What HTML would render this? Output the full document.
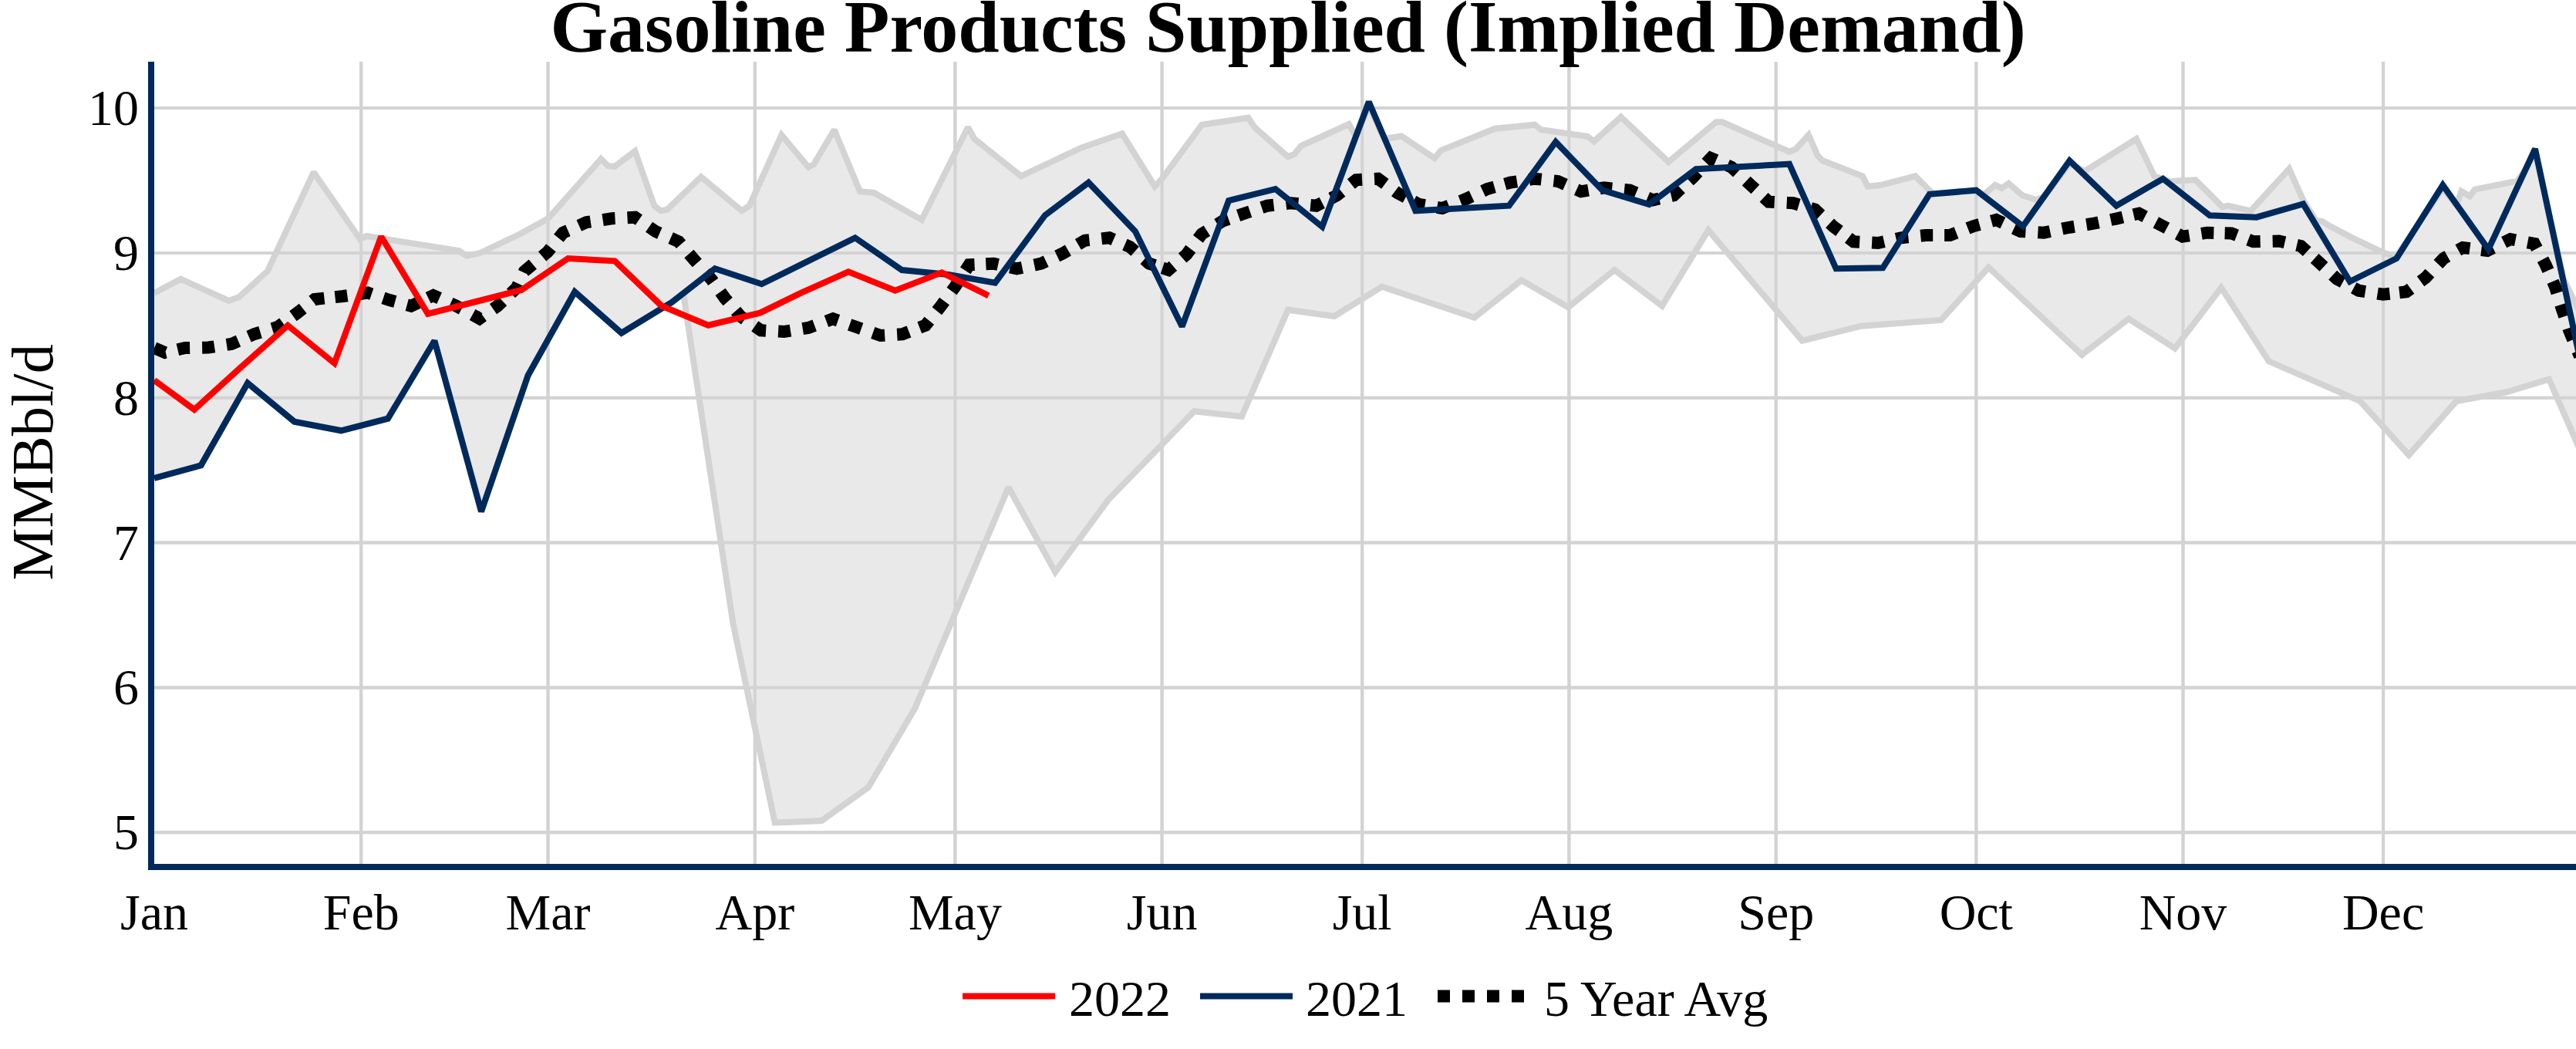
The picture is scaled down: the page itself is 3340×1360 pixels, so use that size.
<!DOCTYPE html>
<html><head><meta charset="utf-8"><style>
html,body{margin:0;padding:0;background:#fff;overflow:hidden}
svg{display:block}
text{font-family:"Liberation Serif",serif;fill:#000}
</style></head><body>
<svg width="3340" height="1360" viewBox="0 0 3340 1360">
<defs><clipPath id="pc"><rect x="200" y="80" width="3200" height="1040"/></clipPath></defs>
<rect x="0" y="0" width="3340" height="1360" fill="#fff"/>
<g stroke="#d3d3d3" stroke-width="4"><line x1="468.2" y1="80" x2="468.2" y2="1120"/><line x1="710.5" y1="80" x2="710.5" y2="1120"/><line x1="978.8" y1="80" x2="978.8" y2="1120"/><line x1="1238.4" y1="80" x2="1238.4" y2="1120"/><line x1="1506.6" y1="80" x2="1506.6" y2="1120"/><line x1="1766.2" y1="80" x2="1766.2" y2="1120"/><line x1="2034.4" y1="80" x2="2034.4" y2="1120"/><line x1="2302.7" y1="80" x2="2302.7" y2="1120"/><line x1="2562.3" y1="80" x2="2562.3" y2="1120"/><line x1="2830.5" y1="80" x2="2830.5" y2="1120"/><line x1="3090.1" y1="80" x2="3090.1" y2="1120"/><line x1="200" y1="1079.3" x2="3340" y2="1079.3"/><line x1="200" y1="891.4" x2="3340" y2="891.4"/><line x1="200" y1="703.6" x2="3340" y2="703.6"/><line x1="200" y1="515.7" x2="3340" y2="515.7"/><line x1="200" y1="327.9" x2="3340" y2="327.9"/><line x1="200" y1="140.0" x2="3340" y2="140.0"/></g>
<g clip-path="url(#pc)" stroke-miterlimit="2">
<polygon points="200.0,380.0 234.3,361.7 296.7,390.0 310.0,385.0 346.7,351.7 406.7,223.3 466.7,310.0 475.0,306.0 595.0,325.0 605.0,331.7 621.7,328.3 673.0,304.0 710.7,283.3 779.3,206.0 788.3,215.0 796.7,216.0 823.3,196.0 848.3,266.7 856.7,273.3 865.0,271.7 909.0,229.3 961.7,273.3 971.7,266.7 1013.3,175.0 1048.3,216.7 1055.0,213.3 1081.7,168.3 1115.0,248.3 1133.3,250.0 1195.0,285.0 1255.0,165.0 1263.3,180.0 1324.0,228.3 1401.7,191.7 1455.0,173.3 1497.3,241.7 1506.7,231.7 1558.3,161.7 1618.3,152.7 1626.7,165.0 1670.0,203.3 1678.3,200.0 1686.7,189.3 1749.0,161.0 1758.0,177.0 1774.8,137.0 1795.0,180.0 1817.0,176.5 1860.0,205.0 1868.3,195.0 1938.3,166.7 1990.0,161.7 1998.3,168.3 2058.3,176.7 2066.7,183.3 2101.7,151.7 2163.3,210.0 2225.0,158.3 2233.3,158.3 2320.0,196.7 2328.3,193.3 2345.0,175.0 2356.7,201.7 2363.3,208.3 2415.0,228.3 2421.7,241.7 2438.3,240.0 2483.3,228.3 2506.5,251.5 2562.3,247.0 2572.5,252.0 2586.8,240.0 2595.4,244.0 2604.4,237.7 2622.3,253.2 2640.0,259.0 2650.0,255.3 2683.4,212.0 2703.0,222.0 2770.0,180.0 2793.3,228.3 2813.3,235.0 2846.7,233.3 2881.7,268.3 2888.3,266.7 2918.3,273.3 2968.0,219.0 2987.0,261.0 3003.0,286.0 3011.0,287.0 3018.3,291.7 3050.0,308.3 3088.3,326.7 3106.7,333.0 3167.3,244.0 3185.0,266.0 3191.4,248.0 3202.3,254.4 3208.9,245.6 3263.7,234.7 3274.0,221.0 3287.0,197.0 3324.0,362.0 3345.0,405.0 3345.0,583.0 3305.0,491.7 3250.0,508.3 3185.0,520.0 3123.3,590.0 3060.0,520.0 2941.7,468.3 2880.0,373.0 2820.0,451.7 2760.0,413.3 2699.3,460.0 2578.3,346.7 2516.7,415.0 2413.3,422.7 2336.7,441.7 2215.0,298.3 2155.0,396.7 2093.3,350.0 2033.3,398.3 1972.7,363.3 1911.7,411.7 1791.7,371.7 1730.0,410.0 1670.0,401.7 1610.0,540.0 1548.3,533.3 1436.7,648.3 1368.2,741.7 1307.6,631.7 1186.4,918.3 1125.9,1020.7 1065.3,1064.0 1004.7,1066.7 950.5,808.3 886.0,380.5 871.0,392.0 805.8,431.7 745.2,378.3 684.6,486.7 624.0,663.3 563.4,441.7 502.9,542.7 442.3,558.3 381.7,546.7 321.1,496.7 260.6,603.3 200.0,620.0" fill="#e9e9e9" stroke="none" opacity="1"/>
<g stroke="#d3d3d3" stroke-width="4"><line x1="468.2" y1="80" x2="468.2" y2="1120"/><line x1="710.5" y1="80" x2="710.5" y2="1120"/><line x1="978.8" y1="80" x2="978.8" y2="1120"/><line x1="1238.4" y1="80" x2="1238.4" y2="1120"/><line x1="1506.6" y1="80" x2="1506.6" y2="1120"/><line x1="1766.2" y1="80" x2="1766.2" y2="1120"/><line x1="2034.4" y1="80" x2="2034.4" y2="1120"/><line x1="2302.7" y1="80" x2="2302.7" y2="1120"/><line x1="2562.3" y1="80" x2="2562.3" y2="1120"/><line x1="2830.5" y1="80" x2="2830.5" y2="1120"/><line x1="3090.1" y1="80" x2="3090.1" y2="1120"/><line x1="200" y1="1079.3" x2="3340" y2="1079.3"/><line x1="200" y1="891.4" x2="3340" y2="891.4"/><line x1="200" y1="703.6" x2="3340" y2="703.6"/><line x1="200" y1="515.7" x2="3340" y2="515.7"/><line x1="200" y1="327.9" x2="3340" y2="327.9"/><line x1="200" y1="140.0" x2="3340" y2="140.0"/></g>
<polyline points="200.0,380.0 234.3,361.7 296.7,390.0 310.0,385.0 346.7,351.7 406.7,223.3 466.7,310.0 475.0,306.0 595.0,325.0 605.0,331.7 621.7,328.3 673.0,304.0 710.7,283.3 779.3,206.0 788.3,215.0 796.7,216.0 823.3,196.0 848.3,266.7 856.7,273.3 865.0,271.7 909.0,229.3 961.7,273.3 971.7,266.7 1013.3,175.0 1048.3,216.7 1055.0,213.3 1081.7,168.3 1115.0,248.3 1133.3,250.0 1195.0,285.0 1255.0,165.0 1263.3,180.0 1324.0,228.3 1401.7,191.7 1455.0,173.3 1497.3,241.7 1506.7,231.7 1558.3,161.7 1618.3,152.7 1626.7,165.0 1670.0,203.3 1678.3,200.0 1686.7,189.3 1749.0,161.0 1758.0,177.0 1774.8,137.0 1795.0,180.0 1817.0,176.5 1860.0,205.0 1868.3,195.0 1938.3,166.7 1990.0,161.7 1998.3,168.3 2058.3,176.7 2066.7,183.3 2101.7,151.7 2163.3,210.0 2225.0,158.3 2233.3,158.3 2320.0,196.7 2328.3,193.3 2345.0,175.0 2356.7,201.7 2363.3,208.3 2415.0,228.3 2421.7,241.7 2438.3,240.0 2483.3,228.3 2506.5,251.5 2562.3,247.0 2572.5,252.0 2586.8,240.0 2595.4,244.0 2604.4,237.7 2622.3,253.2 2640.0,259.0 2650.0,255.3 2683.4,212.0 2703.0,222.0 2770.0,180.0 2793.3,228.3 2813.3,235.0 2846.7,233.3 2881.7,268.3 2888.3,266.7 2918.3,273.3 2968.0,219.0 2987.0,261.0 3003.0,286.0 3011.0,287.0 3018.3,291.7 3050.0,308.3 3088.3,326.7 3106.7,333.0 3167.3,244.0 3185.0,266.0 3191.4,248.0 3202.3,254.4 3208.9,245.6 3263.7,234.7 3274.0,221.0 3287.0,197.0 3324.0,362.0 3345.0,405.0" fill="none" stroke="#d3d3d3" stroke-width="8"/>
<polyline points="200.0,620.0 260.6,603.3 321.1,496.7 381.7,546.7 442.3,558.3 502.9,542.7 563.4,441.7 624.0,663.3 684.6,486.7 745.2,378.3 805.8,431.7 871.0,392.0 886.0,380.5 950.5,808.3 1004.7,1066.7 1065.3,1064.0 1125.9,1020.7 1186.4,918.3 1307.6,631.7 1368.2,741.7 1436.7,648.3 1548.3,533.3 1610.0,540.0 1670.0,401.7 1730.0,410.0 1791.7,371.7 1911.7,411.7 1972.7,363.3 2033.3,398.3 2093.3,350.0 2155.0,396.7 2215.0,298.3 2336.7,441.7 2413.3,422.7 2516.7,415.0 2578.3,346.7 2699.3,460.0 2760.0,413.3 2820.0,451.7 2880.0,373.0 2941.7,468.3 3060.0,520.0 3123.3,590.0 3185.0,520.0 3250.0,508.3 3305.0,491.7 3345.0,583.0" fill="none" stroke="#d3d3d3" stroke-width="8"/>
<g fill="none" stroke="#000" stroke-width="16" stroke-dasharray="16,16"><polyline points="195.0,449.0 214.0,457.0 240.0,451.0 270.0,450.5 300.0,446.0 315.9,439.1" stroke-dashoffset="26.56"/><polyline points="315.9,439.1 330.0,433.0 360.0,424.0 385.0,406.0 408.0,388.0 427.2,385.9" stroke-dashoffset="24.75"/><polyline points="427.2,385.9 445.0,384.0 476.7,379.5 505.0,389.0 533.0,396.7 548.5,389.3" stroke-dashoffset="24.67"/><polyline points="548.5,389.3 561.7,383.0 591.7,396.7 621.7,413.0 645.0,396.7 656.9,385.5" stroke-dashoffset="24.61"/><polyline points="656.9,385.5 670.0,373.0 680.0,351.7 710.0,326.7 730.0,301.7 743.1,295.9" stroke-dashoffset="24.30"/><polyline points="743.1,295.9 760.0,288.3 793.3,283.3 823.3,281.7 850.0,300.0 862.2,305.4" stroke-dashoffset="23.60"/><polyline points="862.2,305.4 880.0,313.3 900.0,336.7 923.3,363.3 940.0,386.7 948.6,396.7" stroke-dashoffset="23.91"/><polyline points="948.6,396.7 960.0,410.0 986.7,428.3 1016.7,430.0 1048.3,425.0 1063.8,419.3" stroke-dashoffset="23.71"/><polyline points="1063.8,419.3 1080.0,413.3 1108.3,423.3 1141.7,435.0 1170.0,433.3 1184.9,427.5" stroke-dashoffset="23.82"/><polyline points="1184.9,427.5 1200.0,421.7 1220.0,396.7 1238.3,371.7 1256.7,343.3 1270.7,342.6" stroke-dashoffset="24.10"/><polyline points="1270.7,342.6 1288.3,341.7 1318.3,348.3 1350.0,341.7 1378.3,328.3 1391.2,320.8" stroke-dashoffset="24.39"/><polyline points="1391.2,320.8 1406.7,311.7 1438.3,308.3 1465.0,320.0 1490.0,341.7 1502.3,345.8" stroke-dashoffset="24.26"/><polyline points="1502.3,345.8 1515.0,350.0 1538.3,330.0 1558.3,303.3 1585.0,286.7 1598.8,281.8" stroke-dashoffset="26.76"/><polyline points="1598.8,281.8 1613.3,276.7 1643.3,266.7 1673.3,263.3 1706.7,266.7 1719.9,260.1" stroke-dashoffset="24.78"/><polyline points="1719.9,260.1 1733.3,253.3 1758.3,233.3 1786.7,231.7 1811.7,250.0 1827.2,258.2" stroke-dashoffset="25.17"/><polyline points="1827.2,258.2 1840.0,265.0 1870.0,270.0 1900.0,258.3 1928.3,245.0 1943.3,240.8" stroke-dashoffset="25.89"/><polyline points="1943.3,240.8 1958.3,236.7 1990.0,231.7 2020.0,235.0 2050.0,248.3 2066.7,245.5" stroke-dashoffset="23.73"/><polyline points="2066.7,245.5 2080.0,243.3 2113.3,246.7 2143.3,259.3 2170.0,253.3 2184.3,239.9" stroke-dashoffset="24.31"/><polyline points="2184.3,239.9 2195.0,230.0 2218.3,205.0 2245.0,216.7 2270.0,240.0 2281.3,250.5" stroke-dashoffset="23.90"/><polyline points="2281.3,250.5 2293.3,261.7 2325.0,263.3 2353.3,271.7 2376.7,293.3 2390.7,303.8" stroke-dashoffset="24.15"/><polyline points="2390.7,303.8 2403.3,313.3 2435.0,315.0 2465.0,308.3 2496.7,305.0 2513.0,305.0" stroke-dashoffset="24.37"/><polyline points="2513.0,305.0 2528.3,305.0 2558.3,293.3 2588.3,285.0 2620.0,300.0 2634.3,300.8" stroke-dashoffset="23.90"/><polyline points="2634.3,300.8 2650.0,301.7 2681.7,295.0 2713.3,290.0 2745.0,283.3 2759.1,280.0" stroke-dashoffset="23.92"/><polyline points="2759.1,280.0 2773.3,276.7 2801.7,291.7 2830.0,306.7 2861.7,301.7 2877.4,302.1" stroke-dashoffset="24.54"/><polyline points="2877.4,302.1 2893.3,302.5 2921.7,313.3 2955.0,312.5 2983.3,319.0 2996.2,330.6" stroke-dashoffset="24.75"/><polyline points="2996.2,330.6 3006.7,340.0 3030.0,361.7 3058.3,376.7 3090.0,381.7 3104.4,380.1" stroke-dashoffset="25.41"/><polyline points="3104.4,380.1 3120.0,378.3 3145.0,360.0 3168.3,335.0 3193.3,321.0 3209.6,323.1" stroke-dashoffset="25.33"/><polyline points="3209.6,323.1 3225.0,325.0 3255.0,310.0 3286.0,316.0 3301.0,344.0 3306.8,357.5" stroke-dashoffset="24.29"/><polyline points="3306.8,357.5 3313.0,372.0 3321.0,398.0 3331.0,428.0 3345.0,462.0" stroke-dashoffset="24.03"/></g>
<polyline points="200.0,620.0 260.6,603.3 321.1,496.7 381.7,546.7 442.3,558.3 502.9,542.7 563.4,441.7 624.0,663.3 684.6,486.7 745.2,378.3 805.8,431.7 871.0,392.0 927.0,348.3 987.5,368.3 1048.0,338.3 1108.7,308.3 1169.3,350.0 1229.7,356.0 1290.3,366.7 1355.0,279.0 1411.4,236.7 1472.0,300.0 1532.6,423.3 1593.1,260.0 1653.7,245.0 1714.3,294.0 1774.8,132.0 1835.4,273.3 1896.0,270.0 1956.6,266.7 2017.1,184.0 2077.7,246.7 2138.3,265.0 2198.9,219.3 2259.4,216.0 2320.0,212.7 2380.6,348.3 2441.2,347.3 2501.8,251.7 2562.3,246.7 2623.0,293.3 2683.4,208.3 2744.0,266.7 2804.5,231.7 2865.1,279.3 2925.7,281.7 2986.3,264.5 3046.8,365.0 3107.4,335.0 3167.3,240.0 3226.4,323.4 3287.0,193.0 3349.7,487.0" fill="none" stroke="#012a5c" stroke-width="8"/>
<polyline points="200.0,493.0 251.9,531.0 312.5,476.0 373.1,422.0 433.6,471.0 494.2,306.7 554.8,407.0 615.4,391.5 676.0,376.0 736.5,335.0 797.1,338.3 857.7,396.5 918.2,421.7 985.4,405.6 1039.4,379.3 1100.0,352.3 1160.6,376.7 1221.1,353.3 1281.7,383.3" fill="none" stroke="#ff0000" stroke-width="8"/>
</g>
<rect x="192" y="80" width="8" height="1048" fill="#012a5c"/>
<rect x="192" y="1120" width="3148" height="8" fill="#012a5c"/>
<g font-size="66"><text x="180" y="1101.3" text-anchor="end">5</text><text x="180" y="913.4" text-anchor="end">6</text><text x="180" y="725.6" text-anchor="end">7</text><text x="180" y="537.7" text-anchor="end">8</text><text x="180" y="349.9" text-anchor="end">9</text><text x="180" y="162.0" text-anchor="end">10</text><text x="200.0" y="1205" text-anchor="middle">Jan</text><text x="468.2" y="1205" text-anchor="middle">Feb</text><text x="710.5" y="1205" text-anchor="middle">Mar</text><text x="978.8" y="1205" text-anchor="middle">Apr</text><text x="1238.4" y="1205" text-anchor="middle">May</text><text x="1506.6" y="1205" text-anchor="middle">Jun</text><text x="1766.2" y="1205" text-anchor="middle">Jul</text><text x="2034.4" y="1205" text-anchor="middle">Aug</text><text x="2302.7" y="1205" text-anchor="middle">Sep</text><text x="2562.3" y="1205" text-anchor="middle">Oct</text><text x="2830.5" y="1205" text-anchor="middle">Nov</text><text x="3090.1" y="1205" text-anchor="middle">Dec</text></g>
<text x="1670" y="66.5" text-anchor="middle" font-size="96" font-weight="bold">Gasoline Products Supplied (Implied Demand)</text>
<text transform="translate(68.3,599.3) rotate(-90)" text-anchor="middle" font-size="76.6">MMBbl/d</text>
<g>
<line x1="1248" y1="1291.4" x2="1368" y2="1291.4" stroke="#ff0000" stroke-width="8"/>
<text x="1386" y="1316.7" font-size="66">2022</text>
<line x1="1556" y1="1291.4" x2="1676" y2="1291.4" stroke="#012a5c" stroke-width="8"/>
<text x="1693" y="1316.7" font-size="66">2021</text>
<line x1="1864" y1="1291.4" x2="1976" y2="1291.4" stroke="#000" stroke-width="16" stroke-dasharray="16,16"/>
<text x="2002" y="1316.7" font-size="66">5 Year Avg</text>
</g>
</svg>
</body></html>
